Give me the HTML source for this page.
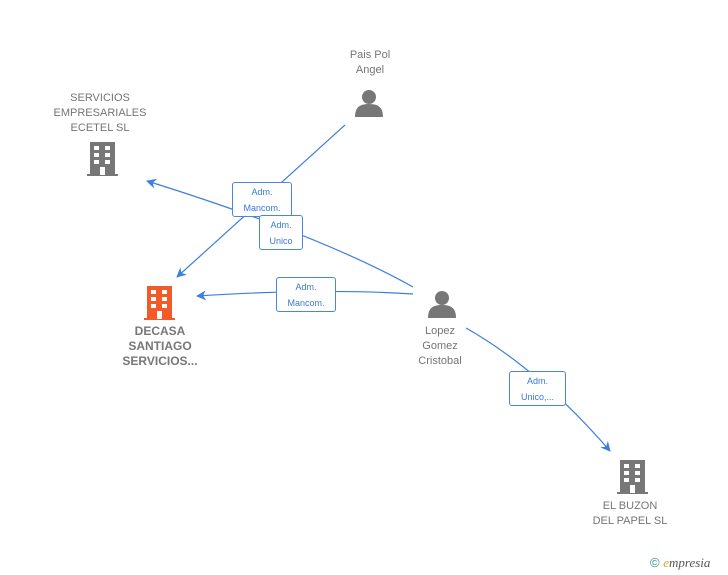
<!DOCTYPE html>
<html><head><meta charset="utf-8"><style>
body{margin:0;background:#fff;width:728px;height:575px;overflow:hidden;font-family:"Liberation Sans",sans-serif}
.t{position:absolute;text-align:center;font-size:11px;color:#757575;line-height:15px}
.b{font-weight:bold;font-size:12px;color:#777}
.lb{position:absolute;background:#fff;border:1px solid #4a86dc;border-radius:3px;color:#3a78d6;font-size:9px;line-height:16px;text-align:center;box-sizing:border-box;padding-top:1px}
</style></head><body>
<svg width="728" height="575" style="position:absolute;left:0;top:0">
<defs>
<marker id="a" markerWidth="10" markerHeight="10" refX="9" refY="5" orient="auto" markerUnits="userSpaceOnUse"><path d="M0,0 L10,5 L0,10 L3,5 z" fill="#3b7fe0"/></marker>
<g id="bld"><rect x="3" y="0" width="25" height="33" fill="currentColor"/><rect x="0" y="32" width="31" height="2" fill="currentColor"/>
<g fill="#fff"><rect x="7" y="4" width="5" height="4"/><rect x="18" y="4" width="5" height="4"/><rect x="7" y="11" width="5" height="4"/><rect x="18" y="11" width="5" height="4"/><rect x="7" y="18" width="5" height="4"/><rect x="18" y="18" width="5" height="4"/><rect x="13" y="25" width="5" height="8"/></g></g>
<g id="per"><circle cx="14" cy="8" r="7" fill="#777"/><path d="M0,28 C0,18 5,15 14,15 C23,15 28,18 28,28 z" fill="#777"/></g>
</defs>
<g stroke="#3b7fe0" stroke-width="1.2" fill="none">
<path d="M345,125 L177,277" marker-end="url(#a)"/>
<path d="M413,287 Q320,235 147,181" marker-end="url(#a)"/>
<path d="M413,294 Q320,288 197,296" marker-end="url(#a)"/>
<path d="M466,328 Q540,370 610,451" marker-end="url(#a)"/>
</g>
<use href="#bld" x="87" y="142" style="color:#777"/>
<use href="#bld" x="144" y="286" style="color:#f25a2a"/>
<use href="#bld" x="617" y="460" style="color:#777"/>
<use href="#per" x="355" y="89"/>
<use href="#per" x="428" y="290"/>
</svg>
<div class="t" style="left:320px;top:48px;width:100px">Pais Pol<br>Angel</div>
<div class="t" style="left:40px;top:91px;width:120px">SERVICIOS<br>EMPRESARIALES<br>ECETEL SL</div>
<div class="t b" style="left:100px;top:324px;width:120px">DECASA<br>SANTIAGO<br>SERVICIOS...</div>
<div class="t" style="left:390px;top:324px;width:100px">Lopez<br>Gomez<br>Cristobal</div>
<div class="t" style="left:570px;top:499px;width:120px">EL BUZON<br>DEL PAPEL SL</div>
<div class="lb" style="left:232px;top:182px;width:60px;height:35px">Adm.<br>Mancom.</div>
<div class="lb" style="left:259px;top:215px;width:44px;height:35px">Adm.<br>Unico</div>
<div class="lb" style="left:276px;top:277px;width:60px;height:35px">Adm.<br>Mancom.</div>
<div class="lb" style="left:509px;top:371px;width:57px;height:35px">Adm.<br>Unico,...</div>
<div style="position:absolute;left:650px;top:555px;font-size:13px;color:#2a9a8a">© <span style="font-style:italic;font-family:'Liberation Serif',serif;color:#555"><span style="color:#e8a020">e</span>mpresia</span></div>
</body></html>
